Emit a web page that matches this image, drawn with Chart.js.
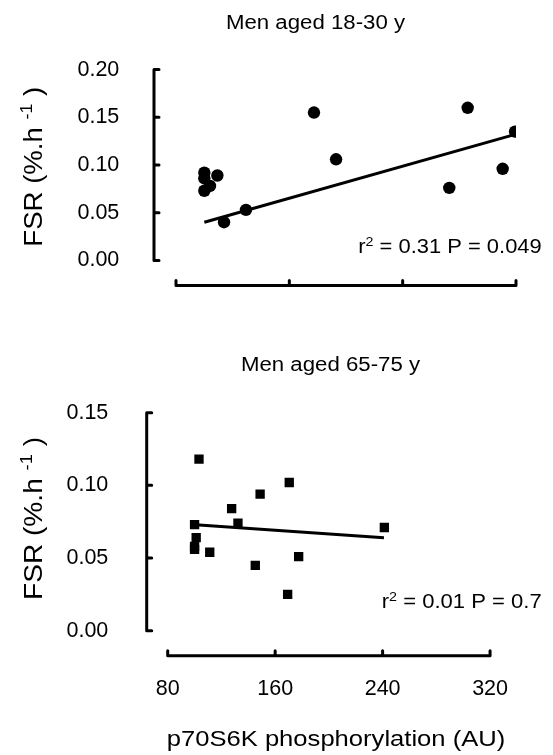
<!DOCTYPE html>
<html>
<head>
<meta charset="utf-8">
<script src="https://cdn.jsdelivr.net/npm/chart.js@4.4.0/dist/chart.umd.min.js"></script>
<style>
  body { margin: 0; background: #fff; }
  canvas { display: block; }
</style>
</head>
<body>
<canvas id="young" width="553" height="330"></canvas>
<canvas id="old" width="553" height="425"></canvas>
<script>
// Men aged 18-30 y: p70S6K phosphorylation (AU) against FSR
const youngP70 = [100, 100, 104, 100, 109.2, 113.9, 129.4, 177.4, 193, 272.9, 285.9, 310.6, 319.3];
const youngFsr = [0.092, 0.086, 0.078, 0.073, 0.089, 0.040, 0.053, 0.155, 0.106, 0.076, 0.160, 0.096, 0.135];
const youngFitX = [100, 317];
const youngFitY = [0.040, 0.131];
const youngYTicks = [0, 0.05, 0.10, 0.15, 0.20];

// Men aged 65-75 y
const oldP70 = [103.3, 170.5, 148.8, 127.6, 132.3, 100, 101.2, 100, 100, 111.3, 177.5, 145.2, 169.3, 241.3];
const oldFsr = [0.118, 0.102, 0.094, 0.084, 0.074, 0.073, 0.064, 0.058, 0.056, 0.054, 0.051, 0.045, 0.025, 0.071];
const oldFitX = [98, 241];
const oldFitY = [0.073, 0.064];
const oldYTicks = [0, 0.05, 0.10, 0.15];

const xTicks = [80, 160, 240, 320];

const FONT = '"Liberation Sans", Arial, Helvetica, sans-serif';
Chart.defaults.font.family = FONT;
Chart.defaults.color = '#000';

// text made of plain and superscript pieces, squeezed or stretched to a given width
function drawParts(ctx, parts, size, width, sy) {
  const fontFor = p => `${p.sup ? size * 0.65 : size}px ${FONT}`;
  let natural = 0;
  parts.forEach(p => { ctx.font = fontFor(p); natural += ctx.measureText(p.text).width; });
  ctx.scale(width / natural, sy || 1);
  let cx = 0;
  parts.forEach(p => {
    ctx.font = fontFor(p);
    ctx.fillText(p.text, cx, p.sup ? -size * 0.4 : 0);
    cx += ctx.measureText(p.text).width;
  });
}

const labelText = {
  id: 'labelText',
  afterDraw(chart, args, opts) {
    const ctx = chart.ctx;
    opts.items.forEach(it => {
      ctx.save();
      ctx.fillStyle = '#000';
      ctx.textAlign = 'left';
      ctx.textBaseline = 'alphabetic';
      ctx.translate(it.x, it.y);
      if (it.rotate) ctx.rotate(-Math.PI / 2);
      drawParts(ctx, it.parts, it.size, it.width, it.sy);
      ctx.restore();
    });
  }
};

// detached axes with inward ticks
const axisLines = {
  id: 'axisLines',
  afterDraw(chart, args, opts) {
    const {ctx, chartArea, scales: {x, y}} = chart;
    const ax = chartArea.left - opts.yGap;
    const ay = chartArea.bottom + opts.xGap;
    ctx.save();
    ctx.strokeStyle = '#000';
    ctx.lineWidth = 3;
    ctx.lineCap = 'round';
    ctx.lineJoin = 'round';
    ctx.beginPath();
    ctx.moveTo(ax, y.getPixelForValue(y.max));
    ctx.lineTo(ax, y.getPixelForValue(y.min));
    y.ticks.forEach(t => {
      const py = y.getPixelForValue(t.value);
      ctx.moveTo(ax, py);
      ctx.lineTo(ax + opts.tick, py);
    });
    ctx.moveTo(x.getPixelForValue(x.min), ay);
    ctx.lineTo(x.getPixelForValue(x.max), ay);
    x.ticks.forEach(t => {
      const px = x.getPixelForValue(t.value);
      ctx.moveTo(px, ay);
      ctx.lineTo(px, ay - opts.tick);
    });
    ctx.stroke();
    ctx.restore();
  }
};

function panel(id, o) {
  const pts = o.xs.map((v, i) => ({x: v, y: o.ys[i]}));
  const fit = o.fitX.map((v, i) => ({x: v, y: o.fitY[i]}));
  return new Chart(document.getElementById(id), {
    type: 'scatter',
    data: {
      datasets: [
        {
          data: pts,
          pointStyle: o.marker,
          pointRadius: o.radius,
          backgroundColor: '#000',
          borderColor: '#000',
          borderWidth: 0
        },
        {
          data: fit,
          showLine: true,
          borderColor: '#000',
          borderWidth: 3,
          pointRadius: 0,
          fill: false
        }
      ]
    },
    options: {
      responsive: false,
      animation: false,
      events: [],
      layout: { padding: o.padding },
      plugins: {
        legend: { display: false },
        tooltip: { enabled: false },
        axisLines: { yGap: o.yGap, xGap: o.xGap, tick: 5 },
        labelText: { items: o.texts }
      },
      scales: {
        x: {
          type: 'linear',
          min: 80,
          max: 320,
          afterBuildTicks: s => { s.ticks = xTicks.map(v => ({value: v})); },
          grid: { display: false, drawTicks: false },
          border: { display: false },
          ticks: { display: o.xLabels, padding: 45, font: { size: 21.5 } },
          afterFit: s => { s.height = o.xHeight; }
        },
        y: {
          type: 'linear',
          min: 0,
          max: o.yTicks[o.yTicks.length - 1],
          afterBuildTicks: s => { s.ticks = o.yTicks.map(v => ({value: v})); },
          grid: { display: false, drawTicks: false },
          border: { display: false },
          ticks: { padding: o.yPad, font: { size: 21.5 }, callback: v => v.toFixed(2) },
          afterFit: s => { s.width = o.yWidth; }
        }
      }
    },
    plugins: [axisLines, labelText]
  });
}

const fsrTitle = [{text: 'FSR ('}, {text: '%.h '}, {text: '-1', sup: true}, {text: ' )'}];

panel('young', {
  xs: youngP70, ys: youngFsr, fitX: youngFitX, fitY: youngFitY, yTicks: youngYTicks,
  marker: 'circle', radius: 6.2,
  padding: { left: 0, top: 60, right: 37, bottom: 0 },
  yWidth: 176, xHeight: 51.7, yPad: 56.7, yGap: 22, xGap: 25, xLabels: false,
  texts: [
    { parts: [{text: 'Men aged 18-30 y'}], size: 20, x: 226, y: 28.5, width: 179 },
    { parts: [{text: 'r'}, {text: '2', sup: true}, {text: ' = 0.31 P = 0.049'}], size: 19.5, x: 358.3, y: 253.3, width: 183.4 },
    { parts: fsrTitle, size: 22, x: 41.7, y: 246.7, width: 160, sy: 1.15, rotate: true }
  ]
});

panel('old', {
  xs: oldP70, ys: oldFsr, fitX: oldFitX, fitY: oldFitY, yTicks: oldYTicks,
  marker: 'rect', radius: 6.6,
  padding: { left: 0, top: 82.7, right: 45.7, bottom: 0 },
  yWidth: 167.7, xHeight: 124.3, yPad: 59.4, yGap: 21, xGap: 25, xLabels: true,
  texts: [
    { parts: [{text: 'Men aged 65-75 y'}], size: 20, x: 241, y: 40.7, width: 179 },
    { parts: [{text: 'r'}, {text: '2', sup: true}, {text: ' = 0.01 P = 0.7'}], size: 19.5, x: 381.7, y: 278.3, width: 160 },
    { parts: fsrTitle, size: 22, x: 41.7, y: 270, width: 163, sy: 1.15, rotate: true },
    { parts: [{text: 'p70S6K phosphorylation (AU)'}], size: 22.5, x: 166.7, y: 416, width: 338.6 }
  ]
});
</script>
</body>
</html>
